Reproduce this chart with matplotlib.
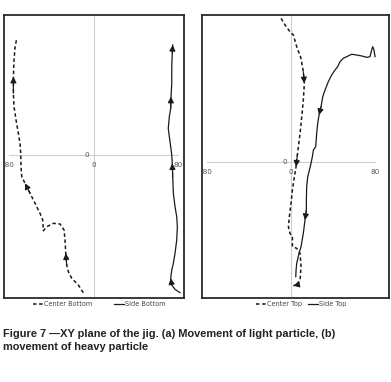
import matplotlib
matplotlib.use("Agg")
import matplotlib.pyplot as plt
import numpy as np

# ---- data (a) light particle ----
cb_x = [-9.7, -14.4, -20.6, -23.8, -25.4, -26.3, -27.0, -27.9, -31.7, -38.1, -44.3, -47.5,
        -48.1, -50.7, -55.4, -60.1, -64.9, -68.0, -68.7, -68.9, -69.6, -71.2, -73.4, -75.3,
        -75.9, -75.9, -75.3, -74.3, -72.7]
cb_y = [-130.4, -123.1, -116.8, -110.5, -104.2, -93.1, -80.5, -71.0, -65.3, -64.7, -67.9, -71.7,
        -61.6, -55.2, -45.7, -36.3, -26.8, -20.5, -11.1, 0.0, 11.1, 20.5, 33.1, 45.7,
        58.4, 74.1, 90.0, 102.6, 110.5]
sb_x = [81.9, 77.2, 74.1, 73.1, 74.1, 75.6, 77.2, 78.8, 79.4, 78.8, 77.2, 75.6, 75.0,
        74.6, 74.1, 73.1, 71.8, 70.8, 71.8, 73.1, 73.4, 74.1, 74.1, 74.6, 75.0]
sb_y = [-130.4, -127.2, -123.1, -116.8, -108.9, -102.6, -93.1, -80.5, -67.9, -58.4, -48.9,
        -36.3, -20.5, -7.9, 0.0, 7.9, 17.4, 25.3, 36.3, 44.2, 55.2, 67.9, 83.6, 96.3, 104.2]

# ---- data (b) heavy particle ----
ct_x = [-9.5, -5.7, -1.0, 2.2, 5.4, 9.5, 11.7, 12.7, 11.7, 10.2, 8.6, 7.0, 6.0, 4.8, 3.2,
        1.3, 0.0, -1.6, -2.5, -1.0, 1.3, 1.3, 5.4, 8.6, 9.5, 8.6, 5.4, 2.2]
ct_y = [136.8, 130.5, 124.1, 121.0, 109.8, 98.8, 86.0, 75.0, 59.0, 43.1, 27.3, 14.6, 6.7,
        -4.4, -14.0, -26.7, -39.4, -52.1, -61.6, -67.9, -71.1, -80.6, -82.2, -87.0, -99.7,
        -112.4, -117.1, -117.8]
st_x = [80.0, 79.0, 77.8, 76.8, 75.2, 72.1, 67.3, 62.5, 57.8, 53.0, 49.8, 46.7, 44.4, 41.9,
        38.7, 35.5, 32.4, 30.2, 28.6, 26.7, 25.4, 24.4, 23.5, 21.3, 20.3, 19.0, 17.5, 15.9,
        14.9, 14.6, 14.6, 13.3, 11.7, 9.5, 7.6, 5.4, 4.8, 4.5]
st_y = [100.3, 106.7, 109.8, 106.7, 100.3, 99.7, 101.0, 101.9, 102.6, 100.3, 98.8, 95.5,
        90.8, 87.6, 82.9, 76.5, 68.6, 62.2, 52.7, 44.8, 36.9, 27.3, 14.6, 11.4, 5.0, -1.3,
        -7.6, -14.0, -23.5, -36.2, -45.7, -55.2, -67.9, -80.6, -87.0, -96.5, -102.9, -109.2]

x_ticks = [-80, 0, 80]
caption = ("Figure 7 \u2014XY plane of the jig. (a) Movement of light particle, (b)\n"
           "movement of heavy particle")

fig = plt.figure(figsize=(3.91, 3.82), dpi=100)
fig.patch.set_facecolor("white")

def panel(rect, xlim, ylim, series, arrows, labels, colsp):
    ax = fig.add_axes(rect)
    ax.set_xlim(*xlim)
    ax.set_ylim(*ylim)
    ax.set_xticks([]); ax.set_yticks([])
    for s in ax.spines.values():
        s.set_color("#2a2a2a"); s.set_linewidth(1.3)
    ax.plot([x_ticks[0], x_ticks[-1]], [0, 0], color="#cfcfcf", lw=0.8, zorder=1)
    ax.axvline(0, color="#cfcfcf", lw=0.8, zorder=1)
    for t in x_ticks:
        ax.text(t, -7, f"{t}", ha="center", va="top", fontsize=5.2, color="#555555")
    ax.text(-4, 0, "0", ha="right", va="center", fontsize=5.2, color="#555555")
    handles = []
    for (xs, ys, dashed), idxs in zip(series, arrows):
        if dashed:
            h, = ax.plot(xs, ys, color="#1a1a1a", lw=1.1, dashes=(2.3, 1.7), zorder=3)
        else:
            h, = ax.plot(xs, ys, color="#1a1a1a", lw=0.9, zorder=3)
        handles.append(h)
        for i in idxs:
            ax.annotate("", xy=(xs[i + 1], ys[i + 1]), xytext=(xs[i], ys[i]),
                        arrowprops=dict(arrowstyle="-|>,head_length=0.35,head_width=0.18",
                                        color="#1a1a1a", lw=0.8, shrinkA=0, shrinkB=0),
                        zorder=4)
    leg = ax.legend(handles, labels, loc="upper center", bbox_to_anchor=(0.53, 0.005),
                    ncol=2, frameon=False, fontsize=4.7, handlelength=1.5,
                    handletextpad=0.15, columnspacing=colsp, borderpad=0.2)
    for t in leg.get_texts():
        t.set_color("#444444")
    return ax

panel([4 / 391, 1 - 298 / 382, 180 / 391, 283 / 382], (-84.8, 85.7), (-135.4, 132.6),
      [(cb_x, cb_y, True), (sb_x, sb_y, False)],
      [[4, 15, 24], [2, 12, 19, 23]],
      ["Center Bottom", "Side Bottom"], 3.4)
panel([202 / 391, 1 - 298 / 382, 187 / 391, 283 / 382], (-84.8, 93.3), (-129.5, 140.0),
      [(ct_x, ct_y, True), (st_x, st_y, False)],
      [[6, 12, 26], [18, 30]],
      ["Center Top", "Side Top"], 1.0)

fig.text(3 / 391, 1 - 329 / 382, caption, ha="left", va="top", fontsize=7.9,
         fontweight="bold", color="#222222", linespacing=1.4,
         family=["Liberation Sans Narrow", "Liberation Sans", "DejaVu Sans"])

fig.savefig("out.png", dpi=100)
